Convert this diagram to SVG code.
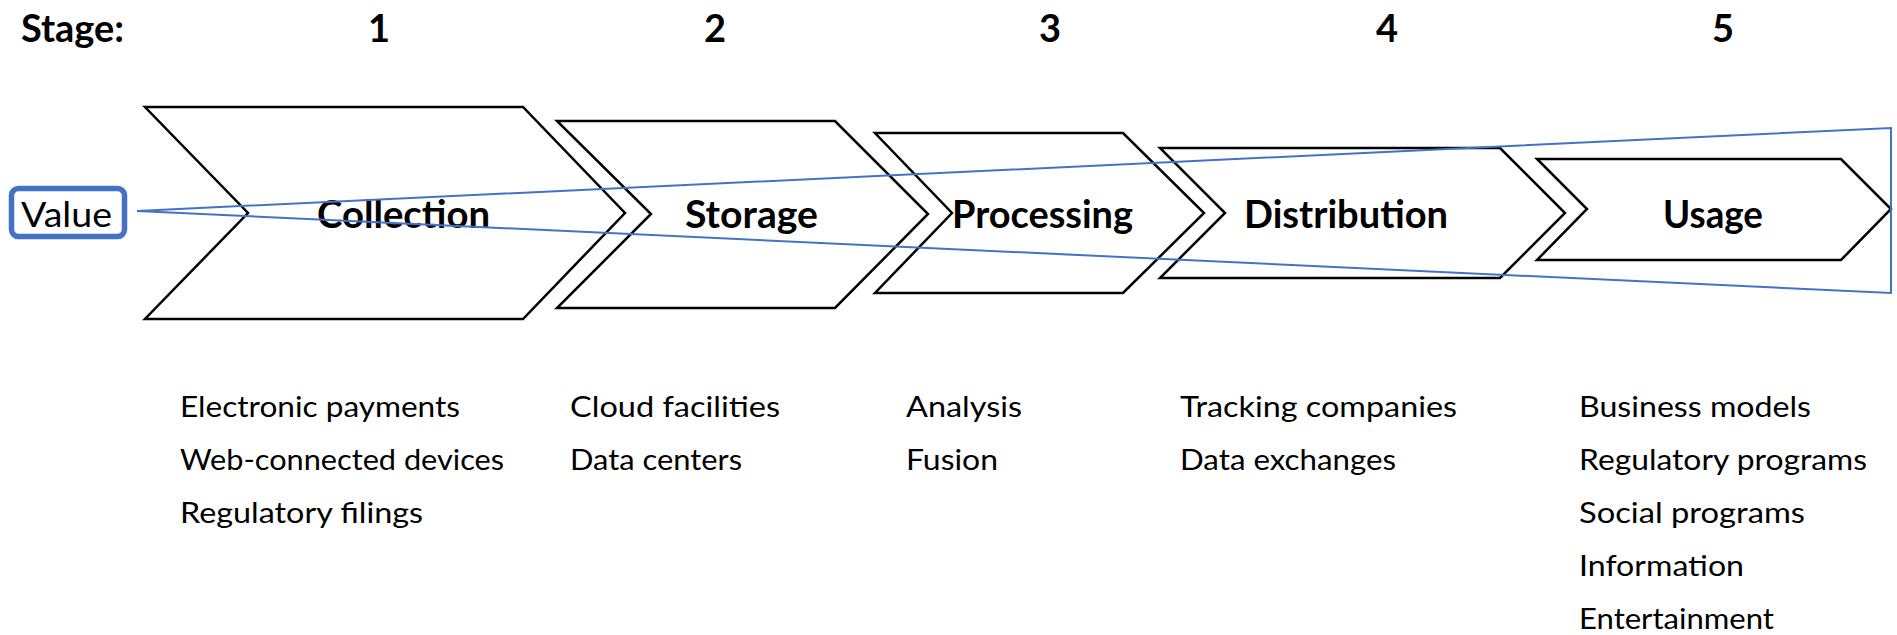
<svg xmlns="http://www.w3.org/2000/svg" width="1897" height="635" viewBox="0 0 1897 635">
<style>
text{font-family:Lato,"Open Sans","Liberation Sans",sans-serif;fill:#000}
.hdr{font-size:38px;font-weight:bold}
.ttl{font-size:39px;font-weight:bold}
.item{font-size:28px}
.chev{fill:none;stroke:#000;stroke-width:2.5;stroke-linejoin:miter}
.wedge{fill:none;stroke:#4472C4;stroke-width:2}
</style>
<rect x="0" y="0" width="1897" height="635" fill="#fff"/>
<g id="header">
<text class="hdr" x="21" y="42" textLength="103" lengthAdjust="spacingAndGlyphs">Stage:</text>
<text class="hdr" x="379" y="42" text-anchor="middle">1</text>
<text class="hdr" x="715" y="42" text-anchor="middle">2</text>
<text class="hdr" x="1050" y="42" text-anchor="middle">3</text>
<text class="hdr" x="1387" y="42" text-anchor="middle">4</text>
<text class="hdr" x="1723" y="42" text-anchor="middle">5</text>
</g>
<g id="collection">
<path class="chev" d="M145,107 L523,107 L625,213 L523,319 L145,319 L248,213 Z"/>
<text class="ttl" x="317" y="228" textLength="173" lengthAdjust="spacingAndGlyphs">Collection</text>
</g>
<g id="storage">
<path class="chev" d="M557,121 L835,121 L928,214 L835,308 L557,308 L651,214 Z"/>
<text class="ttl" x="685" y="228" textLength="133" lengthAdjust="spacingAndGlyphs">Storage</text>
</g>
<g id="processing">
<path class="chev" d="M875,133 L1123,133 L1204,213 L1123,293 L875,293 L952,213 Z"/>
<text class="ttl" x="952" y="228" textLength="181" lengthAdjust="spacingAndGlyphs">Processing</text>
</g>
<g id="distribution">
<path class="chev" d="M1160,148 L1500,148 L1565,213 L1500,278 L1160,278 L1225,213 Z"/>
<text class="ttl" x="1244" y="228" textLength="204" lengthAdjust="spacingAndGlyphs">Distribution</text>
</g>
<g id="usage">
<path class="chev" d="M1537,159 L1841,159 L1891,209 L1841,260 L1537,260 L1587,209 Z"/>
<text class="ttl" x="1663" y="228" textLength="100" lengthAdjust="spacingAndGlyphs">Usage</text>
</g>
<g id="value">
<rect x="11.5" y="188.5" width="113" height="48" rx="7" fill="#fff" stroke="#4472C4" stroke-width="5.5"/>
<text x="21" y="227" font-size="34" textLength="91" lengthAdjust="spacingAndGlyphs">Value</text>
</g>
<g id="connectors">
<path class="wedge" d="M137,211 L1891,128 L1891,293 Z"/>
</g>
<g id="items-collection">
<text class="item" x="180" y="417" textLength="280" lengthAdjust="spacingAndGlyphs">Electronic payments</text>
<text class="item" x="180" y="470" textLength="324" lengthAdjust="spacingAndGlyphs">Web-connected devices</text>
<text class="item" x="180" y="523" textLength="243" lengthAdjust="spacingAndGlyphs">Regulatory filings</text>
</g>
<g id="items-storage">
<text class="item" x="570" y="417" textLength="210" lengthAdjust="spacingAndGlyphs">Cloud facilities</text>
<text class="item" x="570" y="470" textLength="172" lengthAdjust="spacingAndGlyphs">Data centers</text>
</g>
<g id="items-processing">
<text class="item" x="906" y="417" textLength="116" lengthAdjust="spacingAndGlyphs">Analysis</text>
<text class="item" x="906" y="470" textLength="92" lengthAdjust="spacingAndGlyphs">Fusion</text>
</g>
<g id="items-distribution">
<text class="item" x="1180" y="417" textLength="277" lengthAdjust="spacingAndGlyphs">Tracking companies</text>
<text class="item" x="1180" y="470" textLength="216" lengthAdjust="spacingAndGlyphs">Data exchanges</text>
</g>
<g id="items-usage">
<text class="item" x="1579" y="417" textLength="232" lengthAdjust="spacingAndGlyphs">Business models</text>
<text class="item" x="1579" y="470" textLength="288" lengthAdjust="spacingAndGlyphs">Regulatory programs</text>
<text class="item" x="1579" y="523" textLength="226" lengthAdjust="spacingAndGlyphs">Social programs</text>
<text class="item" x="1579" y="576" textLength="165" lengthAdjust="spacingAndGlyphs">Information</text>
<text class="item" x="1579" y="629" textLength="195" lengthAdjust="spacingAndGlyphs">Entertainment</text>
</g>
</svg>
